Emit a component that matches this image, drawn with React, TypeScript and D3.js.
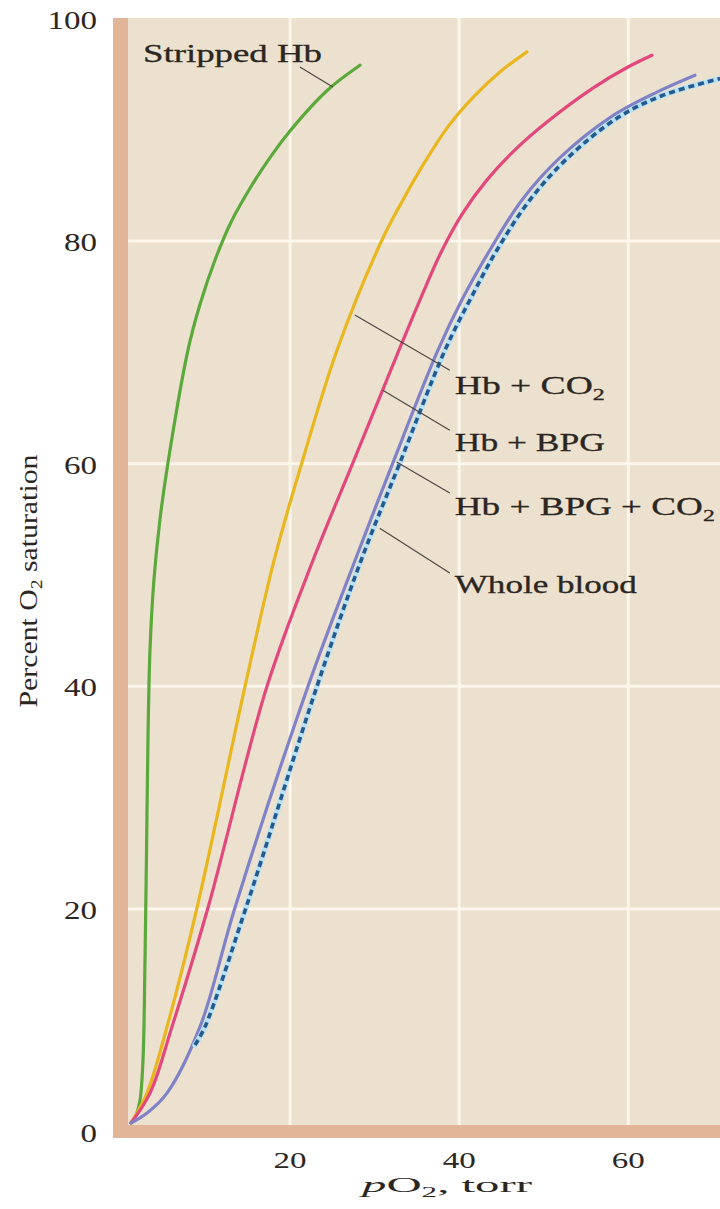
import React from 'react';
import * as d3 from 'd3';

type Pt = [number, number];

// x: pO2 (torr), y: percent O2 saturation
const xTicks = [20, 40, 60];
const yTicks = [0, 20, 40, 60, 80, 100];

const strippedHb: Pt[] = [
  [1.18, 0.76], [1.77, 1.48], [2.25, 2.83], [2.6, 6.4], [2.84, 15.4], [3.02, 25.3],
  [3.19, 35.2], [3.43, 43.3], [3.9, 49.6], [4.61, 55], [5.56, 60.1], [7.92, 70.2],
  [9.34, 74.3], [11.12, 78.3], [13.01, 81.7], [15.26, 84.75], [17.62, 87.5],
  [19.99, 89.9], [24.48, 93.6], [28.27, 95.8],
];
const hbCO2: Pt[] = [
  [1.18, 0.76], [3.07, 3.45], [5.44, 9.4], [8.99, 20.1], [14.67, 40], [18.1, 51.3],
  [21.4, 60.1], [25.55, 70.2], [30.87, 80.1], [33.35, 83.7], [36.07, 87.27],
  [38.79, 90.4], [41.87, 93.1], [44.82, 95.2], [48.02, 97],
];
const hbBPG: Pt[] = [
  [1.18, 0.76], [3.43, 3.45], [6.03, 9.4], [10.29, 20.1], [17.27, 40], [22.7, 51.3],
  [27.44, 60.1], [32.88, 70.2], [35.36, 74.7], [37.73, 78.8], [40.33, 82.4],
  [43.29, 85.5], [46.6, 88.2], [50.38, 90.7], [55.82, 93.75], [59.96, 95.64], [62.8, 96.7],
];
const hbBPGCO2: Pt[] = [
  [1.18, 0.76], [3.08, 1.66], [5.44, 3.45], [9.34, 9.4], [13.48, 20.1], [22.12, 40],
  [27.68, 51.3], [32.17, 60.1], [37.49, 70.2], [40.45, 74.9], [43.64, 79.2],
  [47.43, 83.7], [51.92, 87.5], [57.84, 91.1], [63.16, 93.3], [67.89, 94.9],
];
const wholeBlood: Pt[] = [
  [8.75, 7.77], [9.93, 9.4], [14.78, 20.1], [23.18, 40], [28.39, 51.3], [33.0, 60.1],
  [38.32, 70.2], [41.4, 74.9], [44.47, 79.2], [48.37, 83.7], [52.87, 87.5],
  [58.78, 91.1], [64.1, 93.1], [70.85, 94.6],
];

// label texts: main part + optional subscript
const labelNames = ['Stripped Hb', 'Hb + CO', 'Hb + BPG', 'Hb + BPG + CO', 'Whole blood'];
const labelSubs = ['', '2', '', '2', ''];
const labelAnchors: Pt[] = [[2.6, 96.1], [39.48, 66.3], [39.48, 61.14], [39.48, 55.4], [39.48, 48.4]];
const labelWidths = [179, 150, 150, 260, 182];
const leaderFrom: Pt[] = [[21.16, 95.64], [27.66, 73.36], [30.97, 66.6], [32.6, 60.15], [30.6, 54.2]];
const leaderTo: Pt[] = [[25.06, 93.84], [38.89, 68.4], [38.89, 63.0], [38.89, 57.36], [38.89, 50.18]];

const W = 720;
const H = 1209;
const FONT = '"Liberation Serif", "Times New Roman", serif';
const TEXT = '#2b2622';

export default function App() {
  const x = d3.scaleLinear().domain([0, 70.85]).range([121, 720]);
  const y = d3.scaleLinear().domain([0, 100]).range([1131.5, 18.5]);

  const line = d3
    .line<Pt>()
    .x((d) => x(d[0]))
    .y((d) => y(d[1]))
    .curve(d3.curveCatmullRom.alpha(0.5));

  const plotLeft = x(0) - 8;
  const plotTop = y(100) - 0.5;
  const plotBottom = y(0) + 6.5;

  const solid = [
    { data: strippedHb, color: '#5ba83b' },
    { data: hbCO2, color: '#e9b61e' },
    { data: hbBPG, color: '#e2487c' },
    { data: hbBPGCO2, color: '#7f82c6' },
  ];

  return (
    <svg
      width={W}
      height={H}
      viewBox={`0 0 ${W} ${H}`}
      style={{ position: 'absolute', left: 0, top: 0, background: '#fff' }}
    >
      <defs>
        <clipPath id="plotClip">
          <rect x={plotLeft} y={plotTop} width={W - plotLeft} height={plotBottom - plotTop} />
        </clipPath>
      </defs>
      {/* plot background */}
      <rect x={plotLeft} y={plotTop} width={W - plotLeft} height={plotBottom - plotTop} fill="#ece1cf" />
      {/* grid */}
      {xTicks.map((t) => (
        <line key={'gx' + t} x1={x(t)} x2={x(t)} y1={plotTop} y2={y(0)} stroke="#fcf6ec" strokeWidth={3} />
      ))}
      {yTicks
        .filter((t) => t > 0 && t < 100)
        .map((t) => (
          <line key={'gy' + t} x1={x(0)} x2={W} y1={y(t)} y2={y(t)} stroke="#fcf6ec" strokeWidth={3} />
        ))}
      {/* axis strips */}
      <rect x={plotLeft} y={plotTop} width={15} height={plotBottom - plotTop} fill="#e2b498" />
      <rect x={plotLeft} y={y(0) - 6.5} width={W - plotLeft} height={13} fill="#e2b498" />

      {/* curves */}
      <g clipPath="url(#plotClip)" fill="none" strokeLinecap="round" strokeLinejoin="round">
        {solid.map((s, i) => (
          <path key={i} d={line(s.data) || ''} stroke={s.color} strokeWidth={3.2} />
        ))}
        <path d={line(wholeBlood) || ''} stroke="#b9e0f3" strokeWidth={5.5} />
        <path
          d={line(wholeBlood) || ''}
          stroke="#245a8e"
          strokeWidth={3.6}
          strokeDasharray="6 4"
          strokeLinecap="butt"
        />
      </g>

      {/* leader lines */}
      {leaderFrom.map((f, i) => (
        <line
          key={'ld' + i}
          x1={x(f[0])}
          y1={y(f[1])}
          x2={x(leaderTo[i][0])}
          y2={y(leaderTo[i][1])}
          stroke="#4a4540"
          strokeWidth={1.1}
        />
      ))}

      {/* labels */}
      {labelNames.map((n, i) => (
        <text
          key={'lb' + i}
          x={x(labelAnchors[i][0])}
          y={y(labelAnchors[i][1])}
          fontFamily={FONT}
          fontSize={25}
          fill={TEXT}
          stroke={TEXT}
          strokeWidth={0.3}
          textLength={labelWidths[i]}
          lengthAdjust="spacingAndGlyphs"
        >
          {n}
          {labelSubs[i] ? (
            <tspan fontSize={16} dy={6}>
              {labelSubs[i]}
            </tspan>
          ) : null}
        </text>
      ))}

      {/* y tick labels */}
      {yTicks.map((t) => (
        <text
          key={'yt' + t}
          x={97}
          y={y(t) + 10}
          textAnchor="end"
          fontFamily={FONT}
          fontSize={25}
          fill={TEXT}
          textLength={String(t).length * 16.5}
          lengthAdjust="spacingAndGlyphs"
        >
          {t}
        </text>
      ))}
      {/* x tick labels */}
      {xTicks.map((t) => (
        <text
          key={'xt' + t}
          x={x(t) - 16.5}
          y={1168}
          fontFamily={FONT}
          fontSize={24}
          fill={TEXT}
          textLength={33}
          lengthAdjust="spacingAndGlyphs"
        >
          {t}
        </text>
      ))}

      {/* x axis title */}
      <text
        x={362}
        y={1192}
        fontFamily={FONT}
        fontSize={22}
        fill={TEXT}
        textLength={170}
        lengthAdjust="spacingAndGlyphs"
      >
        <tspan fontStyle="italic">p</tspan>O
        <tspan fontSize={14} dy={5}>2</tspan>
        <tspan dy={-5}>, torr</tspan>
      </text>

      {/* y axis title */}
      <text
        transform={`translate(37, 581) rotate(-90)`}
        textAnchor="middle"
        fontFamily={FONT}
        fontSize={25}
        fill={TEXT}
        textLength={253}
        lengthAdjust="spacingAndGlyphs"
      >
        Percent O
        <tspan fontSize={16} dy={5}>2</tspan>
        <tspan dy={-5}> saturation</tspan>
      </text>
    </svg>
  );
}
